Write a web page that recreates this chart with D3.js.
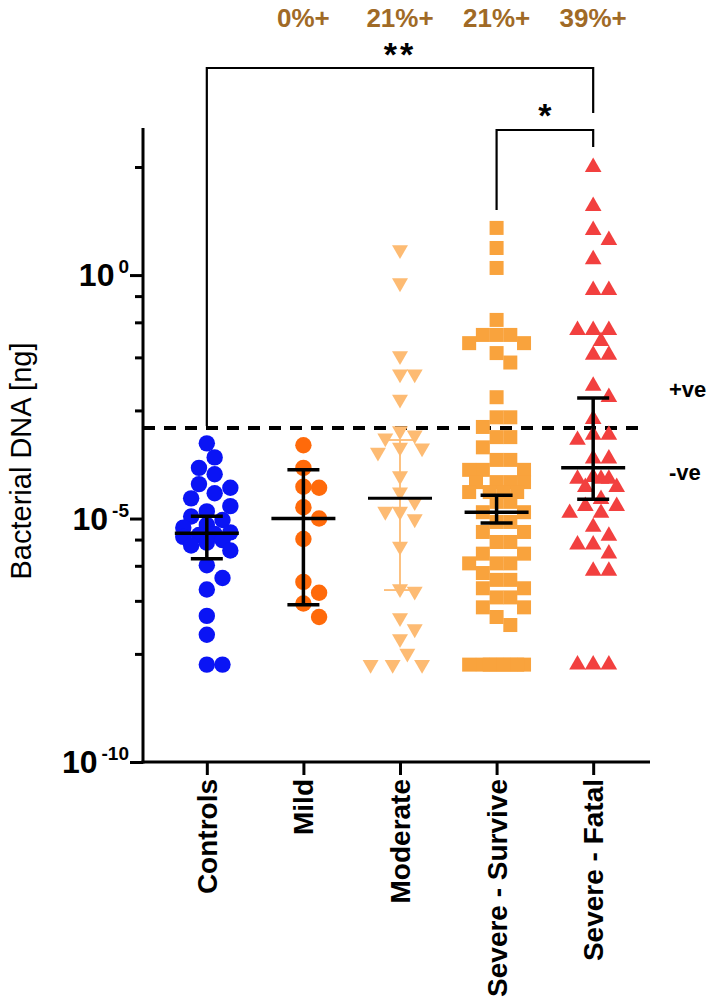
<!DOCTYPE html>
<html><head><meta charset="utf-8">
<script src="https://cdn.jsdelivr.net/npm/d3@7"></script>
<style>body{margin:0;background:#fff} svg{display:block} text{font-family:"Liberation Sans",Arial,sans-serif}</style>
</head><body><svg id="c" width="709" height="1000"></svg>
<script>
const categories = ["Controls","Mild","Moderate","Severe - Survive","Severe - Fatal"];
const controls = [3.5e-4,1.8e-4,1.1e-4,8.1e-5,5.1e-5,4.3e-5,3.3e-5,2.6e-5,1.8e-5,1.4e-5,1.1e-5,9.3e-6,7.4e-6,6.5e-6,5.2e-6,4.8e-6,4.6e-6,4.2e-6,3.6e-6,3.2e-6,2.8e-6,2.2e-6,1.1e-6,6.0e-7,3.5e-7,1.0e-7,4.1e-8,1e-8,1e-8];
const mild = [3.2e-4,1.1e-4,4.5e-5,4.3e-5,1.7e-5,1.0e-5,3.8e-6,5.0e-7,3.0e-7,1.8e-7,9.5e-8];
const moderate = [3.3,0.69,0.022,0.0093,0.0093,0.0028,6.3e-4,5.2e-4,4.5e-4,2.9e-4,2.8e-4,2.3e-4,7.5e-5,3.5e-5,2.2e-5,1.4e-5,1.4e-5,9.8e-6,2.7e-6,3.6e-7,3.2e-7,9.1e-8,5.4e-8,3.4e-8,1.7e-8,1e-8,1e-8,1e-8];
const severeSurvive = [9.3,3.6,1.4,0.12,0.059,0.059,0.059,0.040,0.040,0.025,0.016,0.0031,0.0012,0.0012,7.6e-4,4.7e-4,4.7e-4,2.9e-4,1.6e-4,1.6e-4,1.0e-4,1.0e-4,1.0e-4,5.6e-5,5.6e-5,5.6e-5,5.6e-5,3.5e-5,3.5e-5,3.5e-5,3.5e-5,2.2e-5,2.2e-5,1.35e-5,1.35e-5,8.5e-6,8.5e-6,5.3e-6,5.3e-6,3.3e-6,3.3e-6,1.9e-6,1.9e-6,1.2e-6,1.2e-6,1.2e-6,7.6e-7,5.5e-7,5.5e-7,3.7e-7,3.7e-7,2.4e-7,2.4e-7,1.5e-7,1.5e-7,9.5e-8,6.5e-8,1e-8,1e-8,1e-8,1e-8,1e-8,1e-8,1e-8,1e-8];
const severeFatal = [165,26,8.4,5.2,2.1,0.49,0.49,0.074,0.074,0.074,0.044,0.023,0.023,0.0053,0.0031,0.0011,5.2e-4,5.2e-4,4.1e-4,1.7e-4,1.7e-4,7.1e-5,6.5e-5,6.5e-5,6.5e-5,4.4e-5,4.4e-5,2.5e-5,1.8e-5,1.8e-5,1.3e-5,1.3e-5,6.7e-6,4.4e-6,2.9e-6,2.9e-6,1.9e-6,8.4e-7,8.4e-7,1e-8,1e-8,1e-8];
const centerValues = [5.0e-6,1.0e-5,2.6e-5,1.35e-5,1.1e-4];
const upperValues = [1.12e-5,1.0e-4,4.1e-4,3.0e-5,3.0e-3];
const lowerValues = [1.5e-6,1.7e-7,3.4e-7,8.1e-6,2.5e-5];
const percentLabels = ["","0%+","21%+","21%+","39%+"];
const majorTicks = [1e-10,1e-5,1e0];
const majorExponents = ["-10","-5","0"];
const minorTicks = [1.66e-8,2.04e-7,1.07e-6,3.7e-6,1.66e-3,2.04e-2,0.107,0.37,166];
const cutoff = 7.2e-4;
const cutoffLabels = ["+ve","-ve"];
const groupColors = ["#0a14f5","#ff6a0a","#fdbb73","#f9a33d","#f2403f"];
const groupShapes = ["circle","circle","down","square","up"];
const groups = [controls,mild,moderate,severeSurvive,severeFatal];

const svg = d3.select("#c");
const y = d3.scaleLog().domain([1e-10,1e3]).range([762,129]);
const x = d3.scalePoint().domain(categories).range([145,655]).padding(0.64);
const axisX = 143;

const gy = svg.append("g").attr("transform",`translate(${axisX},0)`);
gy.call(d3.axisLeft(y).tickValues(majorTicks).tickSize(13).tickFormat(""));
gy.select(".domain").remove();
const gyMinor = svg.append("g").attr("transform",`translate(${axisX},0)`);
gyMinor.call(d3.axisLeft(y).tickValues(minorTicks).tickSize(8).tickFormat(""));
gyMinor.select(".domain").remove();
svg.selectAll(".tick line").attr("stroke","#000").attr("stroke-width",3);
svg.append("line").attr("x1",axisX).attr("x2",axisX).attr("y1",y(1e3)-1).attr("y2",y(1e-10)+1.5).attr("stroke","#000").attr("stroke-width",3);

majorTicks.forEach((v,i)=>{
  const t = svg.append("text").attr("x",129).attr("y",y(v)+11).attr("text-anchor","end")
    .attr("font-weight","bold").attr("font-size",32).attr("fill","#000");
  t.append("tspan").text("10");
  t.append("tspan").attr("dx",4).attr("dy",-13).attr("font-size",19).text(majorExponents[i]);
});

svg.append("text").attr("transform",`translate(31,461) rotate(-90)`).attr("text-anchor","middle")
  .attr("font-size",29).attr("fill","#000").text("Bacterial DNA [ng]");

const gx = svg.append("g").attr("transform",`translate(0,${y(1e-10)})`);
gx.call(d3.axisBottom(x).tickSize(13).tickFormat(""));
gx.select(".domain").remove();
gx.selectAll(".tick line").attr("stroke","#000").attr("stroke-width",3);
svg.append("line").attr("x1",axisX-1.5).attr("x2",650).attr("y1",y(1e-10)).attr("y2",y(1e-10)).attr("stroke","#000").attr("stroke-width",3);
categories.forEach(c=>{
  svg.append("text").attr("transform",`translate(${x(c)+10},${y(1e-10)+17}) rotate(-90)`)
    .attr("text-anchor","end").attr("font-weight","bold").attr("font-size",28).attr("fill","#000").text(c);
});

svg.append("line").attr("x1",axisX).attr("x2",642).attr("y1",y(cutoff)).attr("y2",y(cutoff))
  .attr("stroke","#000").attr("stroke-width",4).attr("stroke-dasharray","12,9");
svg.append("text").attr("x",669).attr("y",y(cutoff)-31).attr("font-weight","bold").attr("font-size",22).text(cutoffLabels[0]);
svg.append("text").attr("x",669).attr("y",y(cutoff)+52).attr("font-weight","bold").attr("font-size",22).text(cutoffLabels[1]);

function swarm(vals, D, limit){
  const placed=[]; const out=[];
  const order = vals.map((v,i)=>i).sort((a,b)=>vals[b]-vals[a]);
  const step = D/2;
  const cands=[0];
  for(let k=1;k*step<=limit+0.01;k++){cands.push(k*step);cands.push(-k*step);}
  order.forEach(i=>{
    const py = y(vals[i]);
    let best=null,bestMin=-1;
    for(const cx of cands){
      let mn=Infinity;
      for(const p of placed){const d=Math.hypot(p[0]-cx,p[1]-py); if(d<mn)mn=d;}
      if(mn>=D){best=cx;bestMin=mn;break;}
      if(mn>bestMin){bestMin=mn;best=cx;}
    }
    placed.push([best,py]); out[i]=best;
  });
  return out;
}

const markerD = [16,16,15,14,16];
groups.forEach((vals,gi)=>{
  const cx = x(categories[gi]);
  const offs = swarm(vals, markerD[gi]*0.98, 30);
  const g = svg.append("g").attr("fill",groupColors[gi]);
  vals.forEach((v,i)=>{
    const px = cx+offs[i], py=y(v);
    const s = groupShapes[gi];
    if(s==="circle") g.append("circle").attr("cx",px).attr("cy",py).attr("r",8.2);
    else if(s==="square") g.append("rect").attr("x",px-7).attr("y",py-7).attr("width",14).attr("height",14);
    else if(s==="up") g.append("path").attr("d",d3.symbol(d3.symbolTriangle,120)()).attr("transform",`translate(${px},${py})`);
    else g.append("path").attr("d",d3.symbol(d3.symbolTriangle,110)()).attr("transform",`translate(${px},${py}) rotate(180)`);
  });
});

groups.forEach((vals,gi)=>{
  const cx = x(categories[gi]);
  const light = gi===2;
  const col = light ? "#fdbb73" : "#000";
  const w = light ? 1.8 : 3.5;
  const capW = 16;
  svg.append("line").attr("x1",cx).attr("x2",cx).attr("y1",y(upperValues[gi])).attr("y2",y(lowerValues[gi])).attr("stroke",col).attr("stroke-width",w);
  [upperValues[gi],lowerValues[gi]].forEach(v=>{
    svg.append("line").attr("x1",cx-capW).attr("x2",cx+capW).attr("y1",y(v)).attr("y2",y(v)).attr("stroke",col).attr("stroke-width",w);
  });
  svg.append("line").attr("x1",cx-32).attr("x2",cx+32).attr("y1",y(centerValues[gi])).attr("y2",y(centerValues[gi])).attr("stroke","#000").attr("stroke-width",light?3:3.5);
});

categories.forEach((c,i)=>{
  if(!percentLabels[i]) return;
  svg.append("text").attr("x",x(c)).attr("y",27).attr("text-anchor","middle").attr("font-weight","bold")
    .attr("font-size",26).attr("fill","#a06a26").text(percentLabels[i]);
});

const xc = categories.map(c=>x(c));
svg.append("path").attr("d",`M${xc[0]},${y(cutoff)-2}V68H${xc[4]}V113`).attr("fill","none").attr("stroke","#000").attr("stroke-width",2.2);
svg.append("path").attr("d",`M${xc[3]},210V130H${xc[4]}V147`).attr("fill","none").attr("stroke","#000").attr("stroke-width",2.2);
svg.append("text").attr("x",(xc[0]+xc[4])/2).attr("y",66).attr("text-anchor","middle").attr("font-size",34).attr("font-weight","bold").attr("letter-spacing",3).text("**");
svg.append("text").attr("x",(xc[3]+xc[4])/2).attr("y",127).attr("text-anchor","middle").attr("font-size",34).attr("font-weight","bold").text("*");
</script></body></html>
